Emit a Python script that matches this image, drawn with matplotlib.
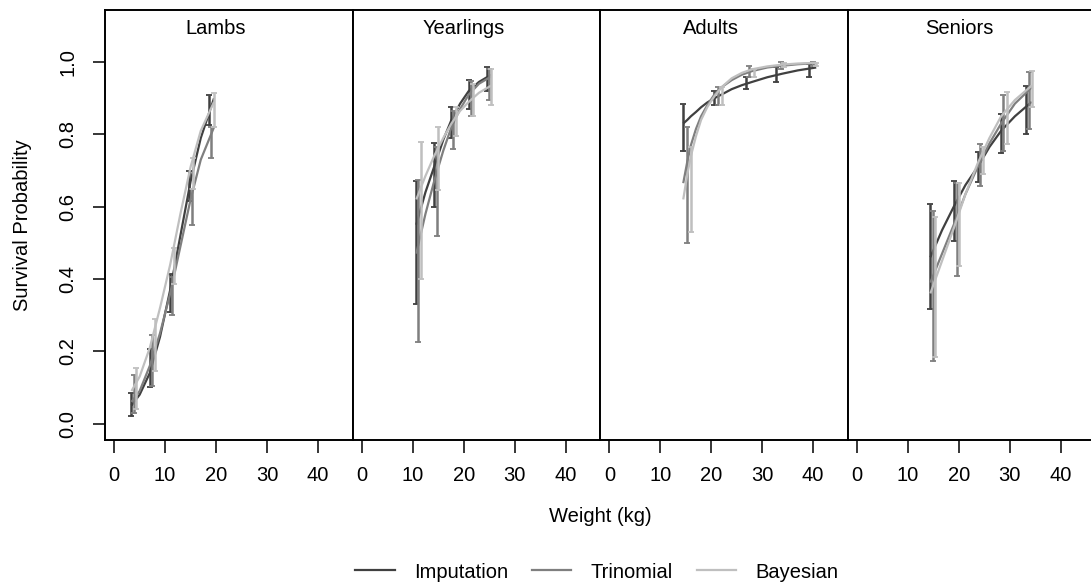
import numpy as np
import matplotlib
matplotlib.use("Agg")
import matplotlib.pyplot as plt

plt.rcParams['font.family'] = ['Liberation Sans', 'DejaVu Sans']
plt.rcParams['font.size'] = 14.5

# stage classes
panels = ['Lambs', 'Yearlings', 'Adults', 'Seniors']
methods = ['Imputation', 'Trinomial', 'Bayesian']
colors = ['#404040', '#7f7f7f', '#bfbfbf']

# fitted curves: weights and survival per method
curve_x = {
    'Lambs': [3.4, 5.0, 7.0, 9.0, 11.0, 13.0, 15.0, 17.0, 19.6],
    'Yearlings': [10.7, 12.5, 14.2, 16.0, 17.6, 19.3, 21.0, 23.0, 25.4],
    'Adults': [14.5, 15.3, 16.0, 17.0, 18.0, 19.2, 20.6, 22.0, 24.0, 26.0, 28.0, 31.0, 34.0, 37.0, 40.6],
    'Seniors': [14.4, 16.7, 19.0, 21.3, 23.7, 26.0, 28.3, 31.0, 34.3],
}
curve_imp = {
    'Lambs': [0.05, 0.08, 0.14, 0.24, 0.37, 0.52, 0.67, 0.79, 0.90],
    'Yearlings': [0.55, 0.64, 0.71, 0.785, 0.84, 0.885, 0.92, 0.945, 0.965],
    'Adults': [0.83, 0.84, 0.85, 0.862, 0.875, 0.888, 0.90, 0.91, 0.925, 0.936, 0.945, 0.958, 0.968, 0.977, 0.985],
    'Seniors': [0.46, 0.535, 0.60, 0.66, 0.71, 0.765, 0.81, 0.85, 0.89],
}
curve_tri = {
    'Lambs': [0.06, 0.09, 0.16, 0.25, 0.36, 0.49, 0.62, 0.73, 0.82],
    'Yearlings': [0.47, 0.58, 0.67, 0.755, 0.82, 0.87, 0.91, 0.94, 0.96],
    'Adults': [0.665, 0.725, 0.77, 0.815, 0.85, 0.88, 0.91, 0.93, 0.95, 0.965, 0.975, 0.985, 0.99, 0.994, 0.997],
    'Seniors': [0.39, 0.47, 0.55, 0.635, 0.71, 0.775, 0.83, 0.885, 0.93],
}
curve_bay = {
    'Lambs': [0.09, 0.13, 0.21, 0.32, 0.44, 0.58, 0.71, 0.81, 0.89],
    'Yearlings': [0.62, 0.685, 0.74, 0.79, 0.83, 0.865, 0.89, 0.915, 0.935],
    'Adults': [0.62, 0.69, 0.74, 0.795, 0.84, 0.875, 0.905, 0.93, 0.955, 0.97, 0.98, 0.988, 0.993, 0.996, 0.998],
    'Seniors': [0.36, 0.45, 0.54, 0.635, 0.72, 0.79, 0.85, 0.895, 0.935],
}

# interval bars (x, lower, upper) per method
imp_x = {
    'Lambs': [3.4, 7.1, 11.0, 14.7, 18.6],
    'Yearlings': [10.7, 14.2, 17.6, 21.0, 24.6],
    'Adults': [14.5, 20.6, 26.8, 32.8, 39.2],
    'Seniors': [14.4, 19.0, 23.7, 28.3, 33.2],
}
imp_lo = {
    'Lambs': [0.02, 0.10, 0.31, 0.615, 0.825],
    'Yearlings': [0.33, 0.60, 0.79, 0.87, 0.92],
    'Adults': [0.755, 0.88, 0.925, 0.945, 0.96],
    'Seniors': [0.318, 0.506, 0.668, 0.748, 0.80],
}
imp_hi = {
    'Lambs': [0.085, 0.205, 0.415, 0.70, 0.91],
    'Yearlings': [0.67, 0.775, 0.875, 0.95, 0.985],
    'Adults': [0.885, 0.92, 0.958, 0.985, 0.995],
    'Seniors': [0.608, 0.672, 0.751, 0.857, 0.933],
}
tri_x = {
    'Lambs': [3.8, 7.5, 11.3, 15.2, 19.1],
    'Yearlings': [11.1, 14.7, 18.0, 21.5, 25.0],
    'Adults': [15.3, 21.4, 27.5, 33.7, 40.0],
    'Seniors': [14.9, 19.6, 24.2, 28.7, 33.7],
}
tri_lo = {
    'Lambs': [0.03, 0.105, 0.30, 0.55, 0.735],
    'Yearlings': [0.225, 0.52, 0.76, 0.85, 0.895],
    'Adults': [0.50, 0.88, 0.958, 0.982, 0.988],
    'Seniors': [0.172, 0.409, 0.658, 0.755, 0.815],
}
tri_hi = {
    'Lambs': [0.135, 0.245, 0.405, 0.65, 0.82],
    'Yearlings': [0.675, 0.765, 0.865, 0.948, 0.98],
    'Adults': [0.82, 0.93, 0.99, 1.0, 1.0],
    'Seniors': [0.587, 0.665, 0.772, 0.908, 0.972],
}
bay_x = {
    'Lambs': [4.3, 8.1, 11.8, 15.5, 19.6],
    'Yearlings': [11.6, 15.0, 18.5, 21.9, 25.4],
    'Adults': [16.1, 22.1, 28.3, 34.3, 40.6],
    'Seniors': [15.3, 20.0, 24.7, 29.4, 34.3],
}
bay_lo = {
    'Lambs': [0.04, 0.145, 0.385, 0.65, 0.82],
    'Yearlings': [0.40, 0.645, 0.795, 0.85, 0.88],
    'Adults': [0.53, 0.88, 0.96, 0.985, 0.99],
    'Seniors': [0.183, 0.437, 0.689, 0.774, 0.875],
}
bay_hi = {
    'Lambs': [0.155, 0.29, 0.485, 0.735, 0.915],
    'Yearlings': [0.78, 0.82, 0.875, 0.94, 0.98],
    'Adults': [0.765, 0.93, 0.98, 0.998, 0.998],
    'Seniors': [0.571, 0.665, 0.765, 0.917, 0.975],
}

x_ticks = [0, 10, 20, 30, 40]
y_ticks = [0.0, 0.2, 0.4, 0.6, 0.8, 1.0]

fig = plt.figure(figsize=(10.91, 5.88), dpi=100)

left, bottom, w, h = 105 / 1091, 1 - 439.5 / 588, 247.6 / 1091, 429.5 / 588

curves = [curve_imp, curve_tri, curve_bay]
bars = [(imp_x, imp_lo, imp_hi), (tri_x, tri_lo, tri_hi), (bay_x, bay_lo, bay_hi)]

for i, name in enumerate(panels):
    ax = fig.add_axes([left + i * w, bottom, w, h])
    for k in range(3):
        ax.plot(curve_x[name], curves[k][name], color=colors[k], lw=1.6,
                solid_capstyle='butt', zorder=2 + k)
    for k in range(3):
        bx, blo, bhi = bars[k]
        xs = np.array(bx[name])
        lo = np.array(blo[name])
        hi = np.array(bhi[name])
        mid = (lo + hi) / 2
        ax.errorbar(xs, mid, yerr=[mid - lo, hi - mid], fmt='none',
                    ecolor=colors[k], elinewidth=1.8, capsize=2, capthick=1.3,
                    zorder=2 + k)
    ax.text(20, 1.093, name, ha='center', va='center')
    ax.set_xlim(-1.8, 46.8)
    ax.set_ylim(-0.044, 1.144)
    ax.set_xticks(x_ticks)
    ax.tick_params(axis='x', length=9, width=1.1, pad=10)
    if i == 0:
        ax.set_yticks(y_ticks)
        ax.set_yticklabels([f'{v:.1f}' for v in y_ticks], rotation=90, va='center')
        ax.tick_params(axis='y', length=9, width=1.1, pad=11)
    else:
        ax.set_yticks([])
    for s in ax.spines.values():
        s.set_linewidth(1.4)

fig.text(0.55, 1 - 516 / 588, 'Weight (kg)', ha='center', va='center')
fig.text(23 / 1091, 1 - 225 / 588, 'Survival Probability', ha='center', va='center',
         rotation=90)

handles = [plt.Line2D([], [], color=c, lw=1.6) for c in colors]
fig.legend(handles, methods, loc='center', bbox_to_anchor=(0.547, 1 - 572 / 588),
           ncol=3, frameon=False, handlelength=1.95, handletextpad=0.95,
           columnspacing=1.2)

fig.savefig('out.png', dpi=100)
